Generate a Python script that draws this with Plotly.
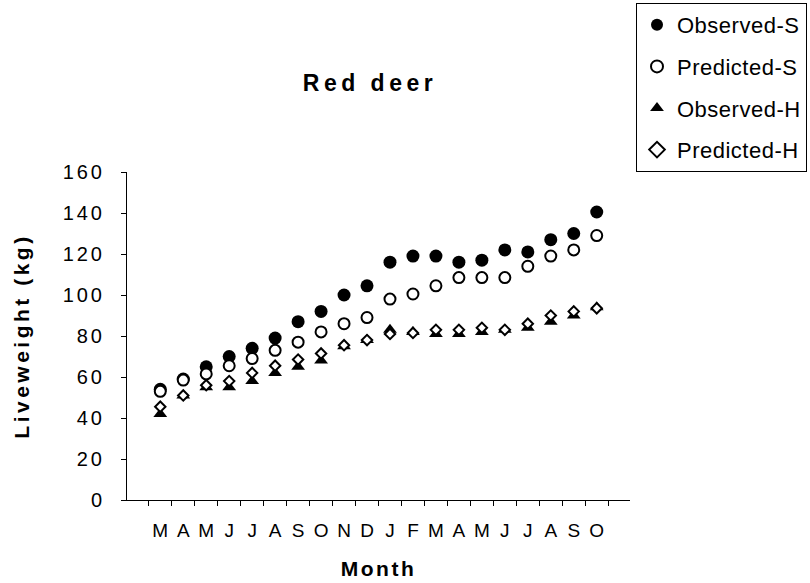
import plotly.graph_objects as go

months = ["M", "A", "M", "J", "J", "A", "S", "O", "N", "D",
          "J", "F", "M", "A", "M", "J", "J", "A", "S", "O"]
observed_s = [54, 59, 65, 70, 74, 79, 87, 92, 100, 104.5,
              116, 119, 119, 116, 117, 122, 121, 127, 130, 140.5]
predicted_s = [53, 58.5, 61.5, 65.5, 69, 73, 77, 82, 86, 89,
               98, 100.5, 104.5, 108.5, 108.5, 108.5, 114, 119, 122, 129]
observed_h = [42, 51, 55, 55, 58, 62, 65, 68, 75, 78,
              83, 82, 81, 81, 82, 83, 84, 87, 90, 94]
predicted_h = [45.5, 51, 56, 58, 62, 65.5, 68.5, 71.5, 75.5, 78,
               81, 81.5, 83, 83, 84, 83, 86, 90, 92, 93.5]
y_ticks = [0, 20, 40, 60, 80, 100, 120, 140, 160]

FONT = "Liberation Sans, Arial, sans-serif"


def spaced(text, px):
    return f'<span style="letter-spacing:{px}px">{text}</span>'


cats = [f"{m}{i}" for i, m in enumerate(months)]

fig = go.Figure()
series = [
    ("Observed-S", observed_s, dict(symbol="circle", size=13, color="black",
                                    line=dict(color="black", width=0))),
    ("Predicted-S", predicted_s, dict(symbol="circle", size=11, color="white",
                                      line=dict(color="black", width=2))),
    ("Observed-H", observed_h, dict(symbol="triangle-up", size=12, color="black",
                                    line=dict(color="black", width=0))),
    ("Predicted-H", predicted_h, dict(symbol="diamond", size=8, color="white",
                                      line=dict(color="black", width=2))),
]
for i, (name, vals, mk) in enumerate(series):
    fig.add_trace(go.Scatter(
        x=cats, y=vals, mode="markers", name=spaced(name, 0.5),
        legendgroup=f"g{i}", marker=mk,
    ))

fig.update_layout(
    width=810, height=583,
    margin=dict(l=127, r=180, t=172, b=83),
    paper_bgcolor="white", plot_bgcolor="white",
    font=dict(family=FONT, color="black", size=20),
    title=dict(text=f"<b>{spaced('Red deer', 4.5)}</b>", font=dict(size=23),
               xref="container", yref="container",
               x=370 / 810, y=1 - 83 / 583, xanchor="center", yanchor="middle"),
    legend=dict(xref="container", yref="container",
                x=636 / 810, y=1 - 3 / 583, xanchor="left", yanchor="top",
                bordercolor="black", borderwidth=1, bgcolor="white",
                font=dict(size=22), traceorder="grouped", tracegroupgap=10,
                itemsizing="constant"),
    showlegend=True,
)
fig.update_xaxes(
    type="category", categoryorder="array", categoryarray=cats,
    tickvals=cats, ticktext=months, tickfont=dict(size=19), tickangle=0,
    ticks="outside", tickson="boundaries", ticklen=5, tickcolor="black",
    showline=True, linecolor="black", linewidth=1, showgrid=False,
    zeroline=False, ticklabelstandoff=13, automargin=False,
    title=dict(text=f"<b>{spaced('Month', 2.5)}</b>", font=dict(size=21), standoff=21),
)
fig.update_yaxes(
    range=[0, 160], tickvals=y_ticks, ticktext=[spaced(str(v), 3) for v in y_ticks],
    tickfont=dict(size=20),
    ticks="outside", ticklen=5, tickcolor="black",
    showline=True, linecolor="black", linewidth=1, showgrid=False,
    zeroline=False, ticklabelstandoff=12, automargin=False,
    title=dict(text=f"<b>{spaced('Liveweight (kg)', 3.5)}</b>", font=dict(size=21), standoff=27),
)

fig.write_html(
    "out.html",
    config={"displayModeBar": False},
    post_script="document.documentElement.style.margin='0';"
                "document.body.style.margin='0';document.body.style.padding='0';",
)
